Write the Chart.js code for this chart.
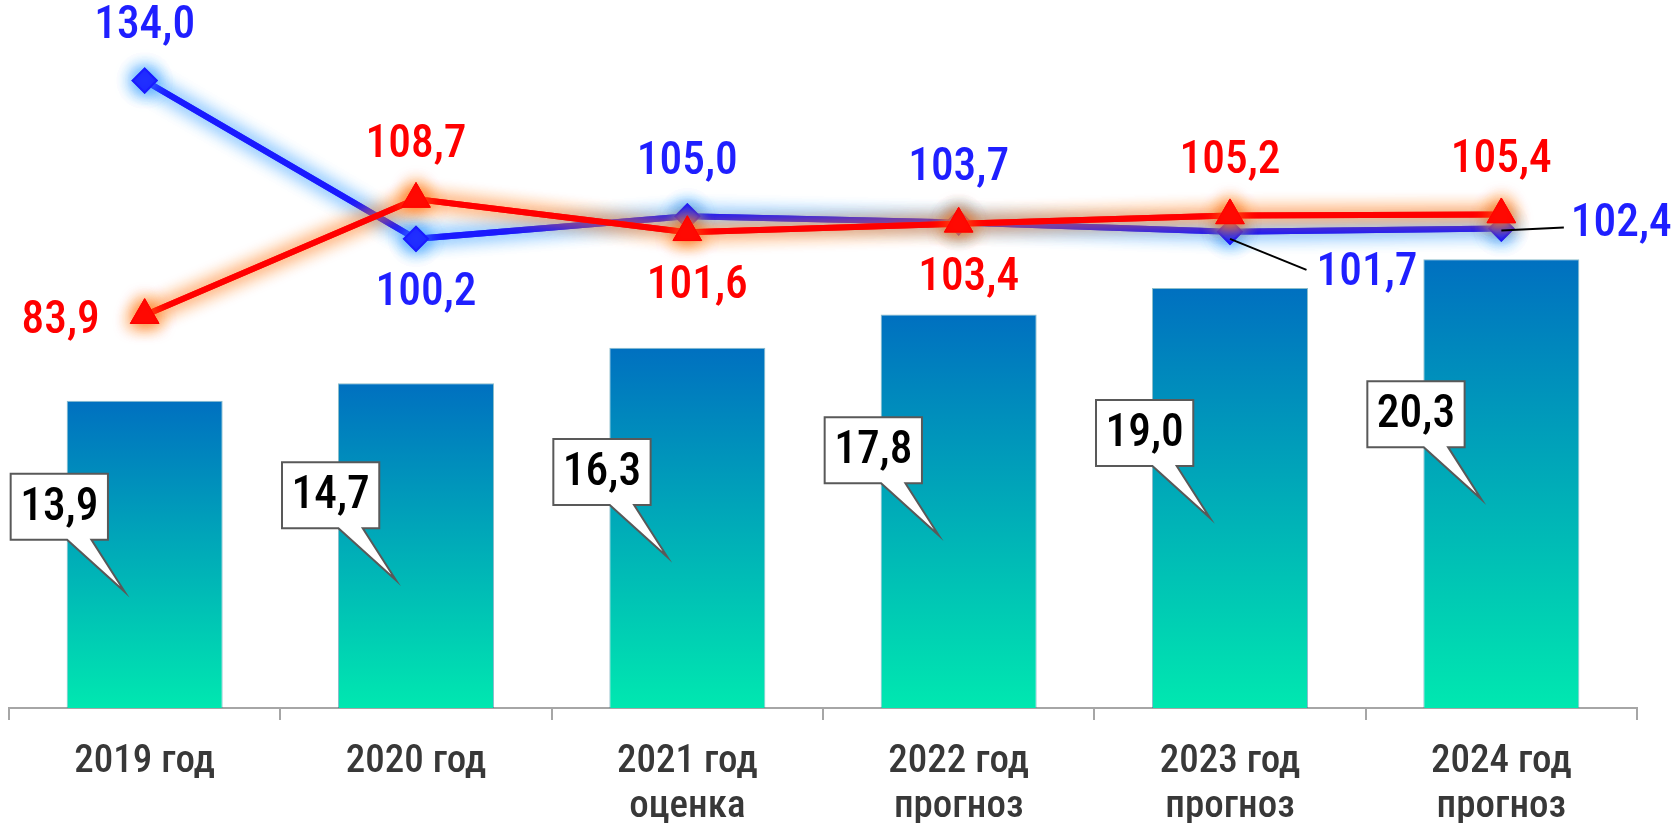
<!DOCTYPE html>
<html>
<head>
<meta charset="utf-8">
<script src="https://cdn.jsdelivr.net/npm/chart.js@4"></script>
<style>
  html, body { margin: 0; padding: 0; background: #fff; }
</style>
</head>
<body>
<canvas id="chart" width="1680" height="823"></canvas>
<script>
const years = ['2019 год', '2020 год', ['2021 год', 'оценка'], ['2022 год', 'прогноз'], ['2023 год', 'прогноз'], ['2024 год', 'прогноз']];
const barValues = [13.9, 14.7, 16.3, 17.8, 19.0, 20.3];
const blueValues = [134.0, 100.2, 105.0, 103.7, 101.7, 102.4];
const redValues = [83.9, 108.7, 101.6, 103.4, 105.2, 105.4];

// where each line label sits relative to its point
const bluePlace = ['top', 'bottom', 'top', 'top', 'leaderDown', 'leaderRight'];
const redPlace = ['left', 'top', 'bottom', 'bottom', 'top', 'top'];

// pick the narrowest installed face we can find
const probe = document.createElement('canvas').getContext('2d');
const widthOf = (family, text, size) => {
	probe.font = '500 ' + (size || 40) + 'px ' + family;
	return probe.measureText(text).width;
};
const hasFont = (name) => ['monospace', 'serif'].every((b) =>
	widthOf("'" + name + "', " + b, '2019 год 134,0') !== widthOf(b, '2019 год 134,0'));
const candidates = ['Roboto Condensed', 'Noto Sans Condensed', 'Open Sans Condensed', 'Liberation Sans Narrow', 'DejaVu Sans Condensed'];
const picked = candidates.find(hasFont) || 'DejaVu Sans';
const FONT = "'" + picked + "', 'DejaVu Sans Condensed', sans-serif";

const LABEL_SIZE = 47;
const labelScale = Math.min(1, 101 / widthOf(FONT, '134,0', LABEL_SIZE));
const TICK_SIZE = Math.round(Math.min(40, 40 * 139 / widthOf(FONT, '2019 год', 40)));

const fmt = (v) => v.toFixed(1).replace('.', ',');

const barGradient = (c) => {
	const chart = c.chart;
	if (!chart.chartArea || c.type !== 'data') return '#0070C0';
	const y = chart.scales.y;
	const top = y.getPixelForValue(c.raw);
	const bottom = y.getPixelForValue(0);
	const g = chart.ctx.createLinearGradient(0, top, 0, bottom);
	g.addColorStop(0, '#0070C0');
	g.addColorStop(1, '#00E8B0');
	return g;
};

const glowPlugin = {
	id: 'glow',
	beforeDatasetDraw(chart, args) {
		const ds = chart.data.datasets[args.index];
		if (!ds.glowColor) return;
		const ctx = chart.ctx;
		ctx.save();
		ctx.shadowColor = ds.glowColor;
		ctx.shadowBlur = 18;
		args.meta.controller.draw();
	},
	afterDatasetDraw(chart, args) {
		const ds = chart.data.datasets[args.index];
		if (ds.glowColor) chart.ctx.restore();
	}
};

const labelPlugin = {
	id: 'valueLabels',
	afterDatasetsDraw(chart) {
		const ctx = chart.ctx;
		const x = chart.scales.x;
		const y = chart.scales.y;
		const y1 = chart.scales.y1;
		ctx.save();
		ctx.font = '500 ' + LABEL_SIZE + 'px ' + FONT;
		ctx.textAlign = 'center';
		ctx.textBaseline = 'middle';

		const text = (str, tx, ty) => {
			ctx.save();
			ctx.translate(tx, ty);
			ctx.scale(labelScale, 1);
			ctx.fillText(str, 0, 0);
			ctx.restore();
		};
		const textWidth = (str) => ctx.measureText(str).width * labelScale;

		// callout boxes for the bars
		barValues.forEach((v, i) => {
			const cx = x.getPixelForValue(i);
			const base = y.getPixelForValue(0);
			const top = y.getPixelForValue(v);
			const str = fmt(v);
			const w = textWidth(str) + 19;
			const h = 66;
			const bx = cx - 134;
			const by = base - (base - top) * 0.655 - h / 2;
			const tipX = cx - 20;
			const tipY = by + h + 52;
			ctx.beginPath();
			ctx.moveTo(bx, by);
			ctx.lineTo(bx + w, by);
			ctx.lineTo(bx + w, by + h);
			ctx.lineTo(bx + w * 0.83, by + h);
			ctx.lineTo(tipX, tipY);
			ctx.lineTo(bx + w * 0.58, by + h);
			ctx.lineTo(bx, by + h);
			ctx.closePath();
			ctx.fillStyle = '#fff';
			ctx.fill();
			ctx.strokeStyle = '#595959';
			ctx.lineWidth = 2;
			ctx.stroke();
			ctx.fillStyle = '#000';
			text(str, bx + w / 2, by + h / 2 + 1);
		});

		const leader = (x0, y0, x1, y1) => {
			ctx.beginPath();
			ctx.moveTo(x0, y0);
			ctx.lineTo(x1, y1);
			ctx.strokeStyle = '#000';
			ctx.lineWidth = 2;
			ctx.stroke();
		};

		const series = [
			{ values: blueValues, place: bluePlace, color: '#1F1FFF' },
			{ values: redValues, place: redPlace, color: '#FF0000' }
		];
		series.forEach((s) => {
			s.values.forEach((v, i) => {
				const px = x.getPixelForValue(i);
				const py = y1.getPixelForValue(v);
				const str = fmt(v);
				const hw = textWidth(str) / 2;
				let tx = px;
				let ty = py;
				const p = s.place[i];
				if (p === 'top') ty = py - 54;
				else if (p === 'bottom') { tx = px + 10; ty = py + 54; }
				else if (p === 'left') { tx = px - 84; ty = py + 6; }
				else if (p === 'leaderDown') {
					tx = px + 137; ty = py + 41;
					leader(px, py + 7, tx - hw - 10, ty - 3);
				} else if (p === 'leaderRight') {
					tx = px + 120; ty = py - 4;
					leader(px, py + 2, tx - hw - 7, ty + 3);
				}
				ctx.fillStyle = s.color;
				text(str, tx, ty);
			});
		});
		ctx.restore();
	}
};

new Chart(document.getElementById('chart'), {
	type: 'bar',
	data: {
		labels: years,
		datasets: [
			{
				type: 'line',
				data: redValues,
				yAxisID: 'y1',
				order: 1,
				borderColor: '#FF0000',
				backgroundColor: '#FF0000',
				borderWidth: 6,
				pointStyle: 'triangle',
				pointRadius: 16.5,
				pointBorderWidth: 1,
				fill: false,
				glowColor: 'rgba(255,125,30,1)'
			},
			{
				type: 'line',
				data: blueValues,
				yAxisID: 'y1',
				order: 2,
				borderColor: '#1A1AFF',
				backgroundColor: '#1A1AFF',
				borderWidth: 6,
				pointStyle: 'rectRot',
				pointRadius: 12,
				pointBorderWidth: 2,
				fill: false,
				glowColor: 'rgba(70,165,255,1)'
			},
			{
				type: 'bar',
				data: barValues,
				yAxisID: 'y',
				order: 3,
				backgroundColor: barGradient,
				borderColor: 'rgba(0,110,140,0.45)',
				borderWidth: 1,
				categoryPercentage: 1,
				barPercentage: 0.575
			}
		]
	},
	options: {
		responsive: false,
		animation: false,
		devicePixelRatio: 1,
		layout: {
			autoPadding: false,
			padding: { left: 9, right: 43, top: 45, bottom: 0 }
		},
		plugins: {
			legend: { display: false },
			tooltip: { enabled: false }
		},
		scales: {
			x: {
				grid: {
					display: true,
					drawOnChartArea: false,
					tickLength: 12,
					color: '#A6A6A6',
					lineWidth: 2
				},
				border: { display: true, color: '#A6A6A6', width: 2 },
				ticks: {
					font: { family: FONT, size: TICK_SIZE, weight: '500', lineHeight: 45 / TICK_SIZE },
					color: '#383838',
					padding: 20,
					maxRotation: 0,
					autoSkip: false
				},
				afterFit(scale) {
					scale.height = 115;
				}
			},
			y: { display: false, min: 0, max: 30 },
			y1: { display: false, min: 0, max: 141.6, position: 'right' }
		}
	},
	plugins: [glowPlugin, labelPlugin]
});
</script>
</body>
</html>
